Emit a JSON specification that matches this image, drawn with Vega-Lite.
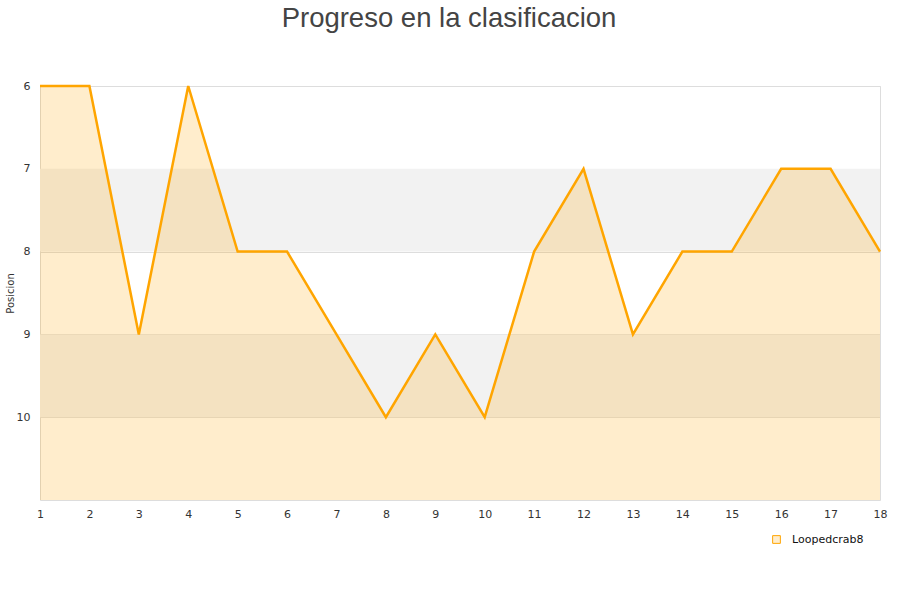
{
  "$schema": "https://vega.github.io/schema/vega-lite/v6.json",
  "width": 840,
  "height": 414,
  "autosize": {"type": "none"},
  "padding": {"left": 40, "top": 86, "right": 20, "bottom": 100},
  "background": "white",
  "title": {
    "text": "Progreso en la clasificacion",
    "font": "Liberation Sans",
    "fontSize": 27.5,
    "fontWeight": "normal",
    "color": "#444444",
    "anchor": "middle",
    "dx": -11,
    "offset": 48
  },
  "config": {
    "view": {"stroke": "#dddddd"},
    "axis": {
      "labelFont": "DejaVu Sans",
      "labelFontSize": 11,
      "labelColor": "#333333",
      "titleFont": "DejaVu Sans",
      "titleFontSize": 10,
      "titleFontWeight": "normal",
      "titleColor": "#333333",
      "ticks": false,
      "domain": false
    },
    "legend": {"labelFont": "DejaVu Sans", "labelFontSize": 11, "labelColor": "#111111"}
  },
  "datasets": {
    "bands": [{"from": 7, "to": 8}, {"from": 9, "to": 10}],
    "pos": [
      {"jornada": 1, "posicion": 6, "equipo": "Loopedcrab8"},
      {"jornada": 2, "posicion": 6, "equipo": "Loopedcrab8"},
      {"jornada": 3, "posicion": 9, "equipo": "Loopedcrab8"},
      {"jornada": 4, "posicion": 6, "equipo": "Loopedcrab8"},
      {"jornada": 5, "posicion": 8, "equipo": "Loopedcrab8"},
      {"jornada": 6, "posicion": 8, "equipo": "Loopedcrab8"},
      {"jornada": 7, "posicion": 9, "equipo": "Loopedcrab8"},
      {"jornada": 8, "posicion": 10, "equipo": "Loopedcrab8"},
      {"jornada": 9, "posicion": 9, "equipo": "Loopedcrab8"},
      {"jornada": 10, "posicion": 10, "equipo": "Loopedcrab8"},
      {"jornada": 11, "posicion": 8, "equipo": "Loopedcrab8"},
      {"jornada": 12, "posicion": 7, "equipo": "Loopedcrab8"},
      {"jornada": 13, "posicion": 9, "equipo": "Loopedcrab8"},
      {"jornada": 14, "posicion": 8, "equipo": "Loopedcrab8"},
      {"jornada": 15, "posicion": 8, "equipo": "Loopedcrab8"},
      {"jornada": 16, "posicion": 7, "equipo": "Loopedcrab8"},
      {"jornada": 17, "posicion": 7, "equipo": "Loopedcrab8"},
      {"jornada": 18, "posicion": 8, "equipo": "Loopedcrab8"}
    ]
  },
  "layer": [
    {
      "data": {"name": "bands"},
      "mark": {"type": "rect", "color": "#f2f2f2"},
      "encoding": {
        "y": {"field": "from", "type": "quantitative", "scale": {"domain": [6, 11], "reverse": true, "nice": false, "zero": false},
          "axis": {"values": [6, 7, 8, 9, 10], "format": "d", "labelFlush": false, "title": "Posicion", "grid": true, "gridColor": "#dddddd", "labelPadding": 10, "titleX": -30, "titleY": 207, "titleAlign": "center", "titleBaseline": "middle", "titleAngle": -90}},
        "y2": {"field": "to"}
      }
    },
    {
      "data": {"name": "pos"},
      "mark": {"type": "area", "color": "#ffa500", "opacity": 0.2},
      "encoding": {
        "x": {"field": "jornada", "type": "quantitative", "scale": {"domain": [1, 18], "nice": false, "zero": false},
          "axis": {"values": [1,2,3,4,5,6,7,8,9,10,11,12,13,14,15,16,17,18], "format": "d", "labelFlush": false, "title": null, "grid": false, "labelPadding": 8}},
        "y": {"field": "posicion", "type": "quantitative"},
        "y2": {"datum": 11}
      }
    },
    {
      "data": {"name": "pos"},
      "mark": {"type": "line", "strokeWidth": 2.5},
      "encoding": {
        "x": {"field": "jornada", "type": "quantitative"},
        "y": {"field": "posicion", "type": "quantitative"},
        "color": {"field": "equipo", "type": "nominal", "scale": {"range": ["#ffa500"]},
          "legend": {"title": null, "orient": "none", "legendX": 731, "legendY": 448, "symbolType": "square", "symbolSize": 60, "symbolFillColor": "#ffedcc", "symbolStrokeWidth": 1, "labelOffset": 10}}
      }
    }
  ]
}
